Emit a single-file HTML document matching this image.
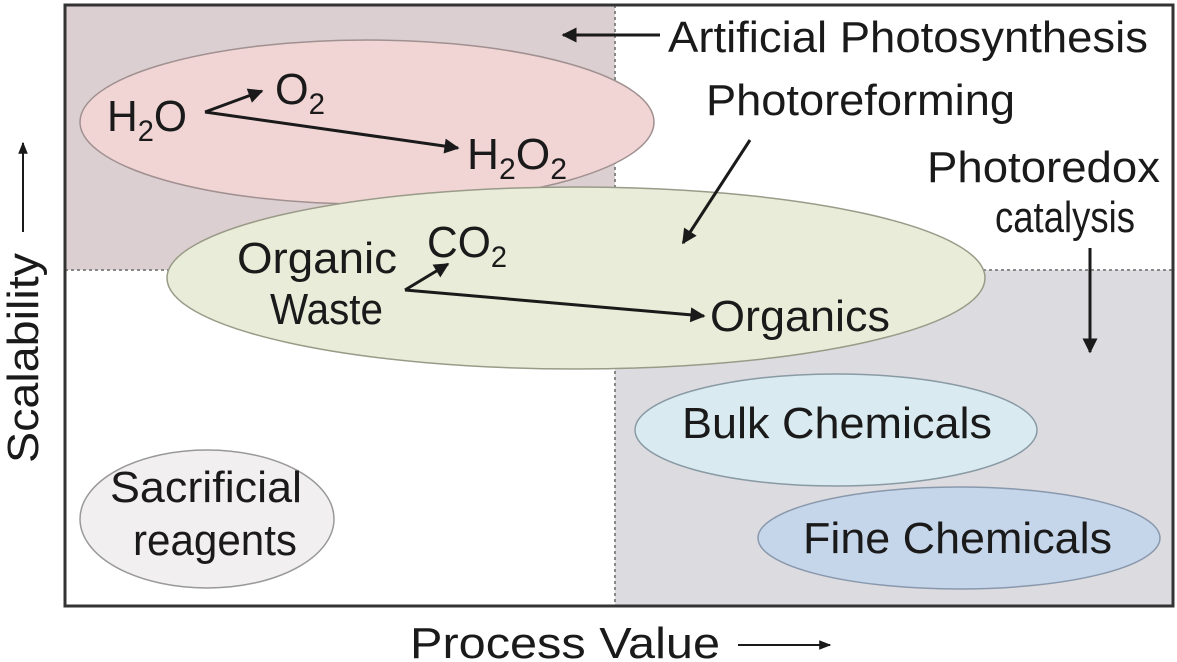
<!DOCTYPE html>
<html><head><meta charset="utf-8"><style>
html,body{margin:0;padding:0;background:#fff}
svg{display:block}
text{font-family:"Liberation Sans",Arial,sans-serif;fill:#1a1a1a}
</style></head><body>
<svg width="1177" height="662" viewBox="0 0 1177 662" xmlns="http://www.w3.org/2000/svg">
<defs>
<marker id="ah" viewBox="0 0 10 10" refX="9" refY="5" markerWidth="6" markerHeight="5" orient="auto" markerUnits="strokeWidth"><path d="M0,0 L10,5 L0,10 z" fill="#1a1a1a"/></marker>
<marker id="ahs" viewBox="0 0 10 10" refX="9" refY="5" markerWidth="6" markerHeight="6" orient="auto" markerUnits="strokeWidth"><path d="M0,1 L10,5 L0,9 z" fill="#1a1a1a"/></marker>
</defs>
<rect x="65" y="5" width="550" height="265" fill="#dccfd1"/>
<rect x="615" y="270" width="558" height="336" fill="#dcdce0"/>
<line x1="615" y1="5" x2="615" y2="606" stroke="#888" stroke-width="2" stroke-dasharray="3,3"/>
<line x1="65" y1="270" x2="1173" y2="270" stroke="#888" stroke-width="2" stroke-dasharray="3,3"/>
<rect x="65" y="5" width="1108" height="601" fill="none" stroke="#333" stroke-width="3"/>

<ellipse cx="367" cy="122" rx="287" ry="82" fill="#f1d5d5" stroke="#a09090" stroke-width="1.5"/>
<ellipse cx="576" cy="278" rx="409" ry="91" fill="#e9ecd8" stroke="#9a9a88" stroke-width="1.5"/>
<ellipse cx="836" cy="430" rx="201" ry="56" fill="#d9ebf1" stroke="#8a9aa4" stroke-width="1.5"/>
<ellipse cx="959" cy="538" rx="201" ry="51" fill="#c5d5ea" stroke="#8a98ac" stroke-width="1.5"/>
<ellipse cx="207" cy="519" rx="127" ry="69" fill="#f1efef" stroke="#999" stroke-width="1.5"/>

<g font-size="44">
<text x="668" y="52" textLength="480" lengthAdjust="spacingAndGlyphs">Artificial Photosynthesis</text>
<text x="706" y="115" textLength="309" lengthAdjust="spacingAndGlyphs">Photoreforming</text>
<text x="927" y="182" textLength="233" lengthAdjust="spacingAndGlyphs">Photoredox</text>
<text x="995" y="232" textLength="140" lengthAdjust="spacingAndGlyphs">catalysis</text>
<text x="107" y="131" textLength="80" lengthAdjust="spacingAndGlyphs">H<tspan font-size="30" dy="10">2</tspan><tspan dy="-10">O</tspan></text>
<text x="275" y="104" textLength="50" lengthAdjust="spacingAndGlyphs">O<tspan font-size="30" dy="10">2</tspan></text>
<text x="467" y="169" textLength="100" lengthAdjust="spacingAndGlyphs">H<tspan font-size="30" dy="10">2</tspan><tspan dy="-10">O</tspan><tspan font-size="30" dy="10">2</tspan></text>
<text x="237" y="273" textLength="160" lengthAdjust="spacingAndGlyphs">Organic</text>
<text x="270" y="324" textLength="113" lengthAdjust="spacingAndGlyphs">Waste</text>
<text x="427" y="257" textLength="80" lengthAdjust="spacingAndGlyphs">CO<tspan font-size="30" dy="10">2</tspan></text>
<text x="710" y="331" textLength="180" lengthAdjust="spacingAndGlyphs">Organics</text>
<text x="682" y="438" textLength="310" lengthAdjust="spacingAndGlyphs">Bulk Chemicals</text>
<text x="803" y="553" textLength="309" lengthAdjust="spacingAndGlyphs">Fine Chemicals</text>
<text x="110" y="502" textLength="192" lengthAdjust="spacingAndGlyphs">Sacrificial</text>
<text x="133" y="555" textLength="164" lengthAdjust="spacingAndGlyphs">reagents</text>
<text x="410" y="658" textLength="310" lengthAdjust="spacingAndGlyphs">Process Value</text>
<text transform="translate(38,463) rotate(-90)" textLength="210" lengthAdjust="spacingAndGlyphs">Scalability</text>
</g>

<g stroke="#1a1a1a" stroke-width="3" fill="none">
<line x1="660" y1="35" x2="563" y2="35" marker-end="url(#ah)"/>
<line x1="750" y1="140" x2="683" y2="243" marker-end="url(#ah)"/>
<line x1="1090" y1="248" x2="1090" y2="352" marker-end="url(#ah)"/>
<line x1="205" y1="112" x2="262" y2="91" marker-end="url(#ah)"/>
<line x1="205" y1="112" x2="458" y2="148" marker-end="url(#ah)"/>
<line x1="405" y1="290" x2="448" y2="264" marker-end="url(#ah)"/>
<line x1="405" y1="290" x2="704" y2="316" marker-end="url(#ah)"/>
</g>
<g stroke="#1a1a1a" stroke-width="2" fill="none">
<line x1="738" y1="645" x2="830" y2="645" marker-end="url(#ahs)"/>
<line x1="23" y1="232" x2="23" y2="143" marker-end="url(#ahs)"/>
</g>
</svg>
</body></html>
